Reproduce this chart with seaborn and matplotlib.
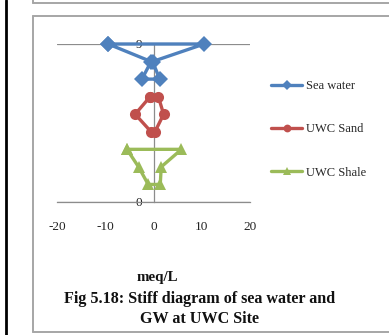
import numpy as np
import pandas as pd
import seaborn as sns
import matplotlib.pyplot as plt
from matplotlib.lines import Line2D

# Stiff diagram data (meq/L): cations plotted to the left (negative), anions to the right,
# one row of ions per level, three levels per sample.
series = ["Sea water", "UWC Sand", "UWC Shale"]
sea_left = [-9.4, -0.5, -2.4]
sea_right = [10.5, -0.2, 1.3]
sea_levels = [9, 8, 7]
sand_left = [-0.7, -3.8, -0.5]
sand_right = [1.0, 2.1, 0.3]
sand_levels = [6, 5, 4]
shale_left = [-5.5, -3.1, -1.1]
shale_right = [5.8, 1.6, 1.4]
shale_levels = [3, 2, 1]

x_ticks = [-20, -10, 0, 10, 20]
x_tick_labels = ["-20", "-10", "0", "10", "20"]
y_ticks = [0, 9]
colors = ["#4F81BD", "#C0504D", "#9BBB59"]
markers = ["D", "o", "^"]


def polygon(name, left, right, levels):
    xs = [left[0], right[0], right[1], right[2], left[2], left[1], left[0]]
    ys = [levels[0], levels[0], levels[1], levels[2], levels[2], levels[1], levels[0]]
    return pd.DataFrame({"series": name, "x": xs, "y": ys})


df = pd.concat([
    polygon(series[0], sea_left, sea_right, sea_levels),
    polygon(series[1], sand_left, sand_right, sand_levels),
    polygon(series[2], shale_left, shale_right, shale_levels),
], ignore_index=True)

sns.set_style("white")
plt.rcParams["font.family"] = ["Liberation Serif", "DejaVu Serif"]

W, H = 389, 335
fig = plt.figure(figsize=(W / 100, H / 100), dpi=100)


def fx(px):
    return px / W


def fy(py):
    return 1 - py / H


ax_left, ax_right, ax_top, ax_bottom = 57, 250, 44, 202
ax = fig.add_axes([fx(ax_left), fy(ax_bottom), (ax_right - ax_left) / W, (ax_bottom - ax_top) / H])

grey = "#8c8c8c"
sns.lineplot(data=df, x="x", y="y", hue="series", style="series", hue_order=series,
             style_order=series, palette=colors, markers=markers, dashes=False,
             sort=False, estimator=None, linewidth=2.4, markersize=8,
             markeredgewidth=0, ax=ax, clip_on=False, zorder=3)

ax.set_xlim(-20, 20)
ax.set_ylim(0, 9)
ax.set_xticks(x_ticks)
ax.set_xticklabels(x_tick_labels)
ax.set_yticks(y_ticks)
ax.set_xlabel("")
ax.set_ylabel("")

ax.spines["top"].set_visible(False)
ax.spines["right"].set_visible(False)
ax.spines["left"].set_position(("data", 0))
for s in ("left", "bottom"):
    ax.spines[s].set_color(grey)
    ax.spines[s].set_linewidth(0.9)
ax.yaxis.grid(True, color=grey, linewidth=0.9)
ax.xaxis.grid(False)
ax.set_axisbelow(True)

ax.tick_params(axis="x", direction="in", length=3.5, width=0.9, color=grey,
               pad=14, labelsize=9.5, labelcolor="#222222")
ax.tick_params(axis="y", length=0, pad=8.5, labelsize=9.5, labelcolor="#222222")

handles, labels = ax.get_legend_handles_labels()
if ax.get_legend() is not None:
    ax.get_legend().remove()
fig.legend(handles, labels, loc="upper left", bbox_to_anchor=(fx(271), fy(80)),
           frameon=False, fontsize=9, labelspacing=2.5, handlelength=2.5,
           handletextpad=0.3, markerscale=0.7, borderpad=0, borderaxespad=0)

fig.text(fx(157), fy(278), "meq/L", ha="center", va="center", fontsize=10.8,
         fontweight="bold", color="#111111")
fig.text(fx(200), fy(299), "Fig 5.18: Stiff diagram of sea water and", ha="center",
         va="center", fontsize=11.6, fontweight="bold", color="#111111")
fig.text(fx(200), fy(319), "GW at UWC Site", ha="center", va="center", fontsize=11.6,
         fontweight="bold", color="#111111")

# page frame around the figure (open to the right)
frame = "#a6a6a6"
for xs, ys in [([33, 400], [16, 16]), ([33, 400], [332, 332]), ([33, 33], [16, 332]),
               ([33, 400], [3, 3]), ([33, 33], [-5, 3])]:
    fig.add_artist(Line2D([fx(v) for v in xs], [fy(v) for v in ys], color=frame,
                          linewidth=1.4, transform=fig.transFigure))
fig.add_artist(Line2D([fx(6), fx(6)], [0, 1], color="black", linewidth=2.0,
                      transform=fig.transFigure))

fig.savefig("out.png", dpi=100)
